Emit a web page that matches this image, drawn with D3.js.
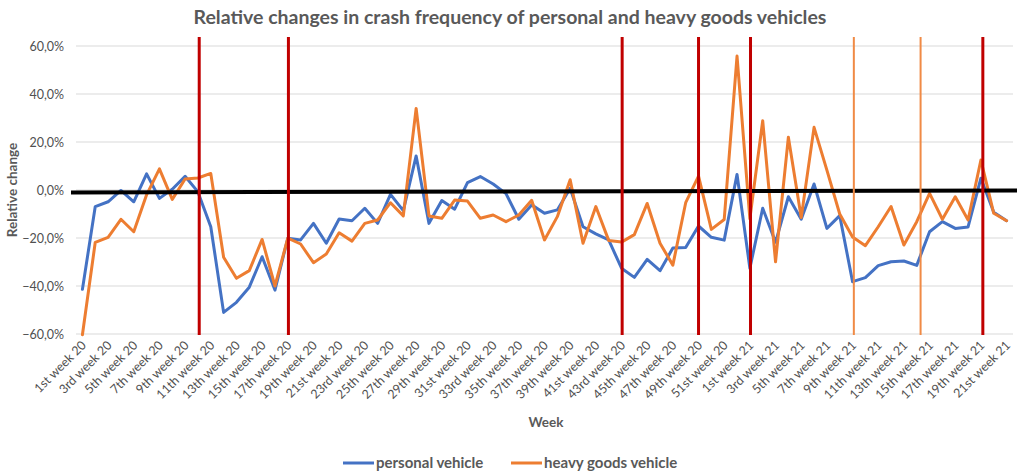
<!DOCTYPE html>
<html>
<head>
<meta charset="utf-8">
<script src="https://cdn.jsdelivr.net/npm/d3@7"></script>
<style>
  html, body { margin: 0; padding: 0; background: #ffffff; }
  svg { display: block; font-family: Lato, "Open Sans", sans-serif; }
</style>
</head>
<body>
<svg id="chart" width="1017" height="475"></svg>
<script>
const categories = [
  "1st week 20","2nd week 20","3rd week 20","4th week 20","5th week 20","6th week 20","7th week 20","8th week 20","9th week 20","10th week 20",
  "11th week 20","12th week 20","13th week 20","14th week 20","15th week 20","16th week 20","17th week 20","18th week 20","19th week 20","20th week 20",
  "21st week 20","22nd week 20","23rd week 20","24th week 20","25th week 20","26th week 20","27th week 20","28th week 20","29th week 20","30th week 20",
  "31st week 20","32nd week 20","33rd week 20","34th week 20","35th week 20","36th week 20","37th week 20","38th week 20","39th week 20","40th week 20",
  "41st week 20","42nd week 20","43rd week 20","44th week 20","45th week 20","46th week 20","47th week 20","48th week 20","49th week 20","50th week 20",
  "51st week 20","52nd week 20",
  "1st week 21","2nd week 21","3rd week 21","4th week 21","5th week 21","6th week 21","7th week 21","8th week 21","9th week 21","10th week 21",
  "11th week 21","12th week 21","13th week 21","14th week 21","15th week 21","16th week 21","17th week 21","18th week 21","19th week 21","20th week 21",
  "21st week 21"
];

const personalVehicle = [
  -41.4, -6.9, -4.9, -0.2, -4.9, 6.7, -3.5, 0.3, 5.7, -0.8,
  -15.3, -51.0, -46.8, -40.5, -27.8, -41.7, -20.1, -20.8, -13.9, -22.2,
  -12.1, -12.8, -7.6, -13.9, -1.8, -8.6, 14.2, -13.9, -4.4, -8.0,
  3.1, 5.6, 2.5, -1.5, -12.2, -6.2, -9.7, -8.3, 0.7, -15.3,
  -18.3, -20.8, -32.6, -36.4, -28.9, -33.6, -24.2, -24.0, -15.0, -19.7,
  -20.9, 6.5, -32.6, -7.6, -21.8, -2.8, -12.2, 2.5, -16.0, -10.7,
  -38.2, -36.5, -31.5, -29.9, -29.6, -31.4, -17.4, -13.2, -16.0, -15.4,
  4.9, -9.3, -12.8
];

const heavyGoodsVehicle = [
  -60.3, -21.8, -19.7, -12.2, -17.4, -2.0, 8.8, -3.9, 4.6, 5.0,
  6.9, -28.0, -36.8, -33.6, -20.6, -40.0, -20.1, -22.5, -30.3, -26.7,
  -17.8, -21.3, -13.9, -12.5, -5.3, -10.8, 34.0, -10.8, -11.8, -4.2,
  -4.6, -11.8, -10.4, -13.2, -10.4, -4.3, -20.8, -11.1, 4.3, -22.2,
  -6.9, -21.0, -21.7, -18.6, -5.6, -22.2, -31.3, -5.3, 5.8, -16.4,
  -12.3, 55.8, -12.0, 28.9, -29.9, 22.0, -11.5, 26.1, 8.3, -10.0,
  -19.6, -23.2, -15.3, -6.9, -22.9, -13.2, -1.4, -12.2, -2.8, -12.5,
  12.5, -9.7, -12.8
];

const yTicks = [-60, -40, -20, 0, 20, 40, 60];

// vertical marker lines (category index positions) and their kind
const markerPositions = [9.1, 16.05, 42.05, 48.0, 52.05, 60.1, 65.3, 70.15];
const markerKinds     = ["major","major","major","major","major","minor","minor","major"];

// slightly tilted zero reference line (values at left / right end)
const zeroLineValues = [-1.0, -0.2];

const seriesNames = ["personal vehicle", "heavy goods vehicle"];
const seriesColors = ["#4472C4", "#ED7D31"];

// ---------- layout ----------
const W = 1017, H = 475;
const plot = { left: 76, right: 1013, top: 46, bottom: 334 };
const svg = d3.select("#chart");
const textColor = "#595959";

const x = d3.scalePoint().domain(categories).range([plot.left, plot.right]).padding(0.5);
const xl = d3.scaleLinear().domain([-0.5, categories.length - 0.5]).range([plot.left, plot.right]);
const y = d3.scaleLinear().domain([-60, 60]).range([plot.bottom, plot.top]);

// title
svg.append("text")
  .attr("x", 510).attr("y", 24)
  .attr("text-anchor", "middle")
  .attr("font-size", 19.5).attr("font-weight", "bold")
  .attr("fill", textColor)
  .text("Relative changes in crash frequency of personal and heavy goods vehicles");

// gridlines
svg.append("g").selectAll("line").data(yTicks).join("line")
  .attr("x1", plot.left).attr("x2", plot.right)
  .attr("y1", d => y(d)).attr("y2", d => y(d))
  .attr("stroke", "#D9D9D9").attr("stroke-width", 1);

// y axis labels
const yAxis = d3.axisLeft(y).tickValues(yTicks).tickSize(0).tickPadding(0)
  .tickFormat(d => d3.format(".1f")(d).replace(".", ",") + "%");
const yg = svg.append("g").attr("transform", `translate(${plot.left - 12},0)`).call(yAxis);
yg.select(".domain").remove();
yg.selectAll("text").attr("font-size", 12.5).attr("fill", "#505050").attr("font-family", "Lato, sans-serif");

// x axis labels
const xAxis = d3.axisBottom(x).tickSize(0)
  .tickValues(categories.filter((d, i) => i % 2 === 0));
const xg = svg.append("g").attr("transform", `translate(0,${plot.bottom})`).call(xAxis);
xg.select(".domain").remove();
xg.selectAll("text")
  .attr("font-size", 12.5).attr("fill", "#505050").attr("font-family", "Lato, sans-serif")
  .attr("text-anchor", "end")
  .attr("dy", null).attr("y", 0)
  .attr("transform", "translate(4,12) rotate(-45)");

// axis titles
svg.append("text")
  .attr("transform", `translate(17,190) rotate(-90)`)
  .attr("text-anchor", "middle")
  .attr("font-size", 13.5).attr("font-weight", "bold").attr("fill", textColor)
  .text("Relative change");
svg.append("text")
  .attr("x", 546).attr("y", 427)
  .attr("text-anchor", "middle")
  .attr("font-size", 13.5).attr("font-weight", "bold").attr("fill", textColor)
  .text("Week");

// series lines
const series = [personalVehicle, heavyGoodsVehicle];
const line = d3.line().x((d, i) => x(categories[i])).y(d => y(d));
svg.append("g").selectAll("path").data(series).join("path")
  .attr("d", d => line(d))
  .attr("fill", "none")
  .attr("stroke", (d, i) => seriesColors[i])
  .attr("stroke-width", 3)
  .attr("stroke-linejoin", "round")
  .attr("stroke-linecap", "round");

// zero reference line
svg.append("line")
  .attr("x1", plot.left - 5).attr("x2", W)
  .attr("y1", y(zeroLineValues[0])).attr("y2", y(zeroLineValues[1]))
  .attr("stroke", "#000").attr("stroke-width", 4);

// vertical markers
svg.append("g").selectAll("line").data(markerPositions).join("line")
  .attr("x1", d => xl(d)).attr("x2", d => xl(d))
  .attr("y1", y(63.8)).attr("y2", y(-60.4))
  .attr("stroke", (d, i) => markerKinds[i] === "major" ? "#C00000" : "#F08A45")
  .attr("stroke-width", (d, i) => markerKinds[i] === "major" ? 3 : 2);

// legend
const legendX = [343, 511];
const lg = svg.append("g").selectAll("g").data(seriesNames).join("g")
  .attr("transform", (d, i) => `translate(${legendX[i]},463)`);
lg.append("line").attr("x1", 0).attr("x2", 31).attr("y1", 0).attr("y2", 0)
  .attr("stroke", (d, i) => seriesColors[i]).attr("stroke-width", 3);
lg.append("text").attr("x", 33).attr("y", 5)
  .attr("font-size", 15).attr("font-weight", "bold").attr("fill", textColor)
  .text(d => d);
</script>
</body>
</html>
